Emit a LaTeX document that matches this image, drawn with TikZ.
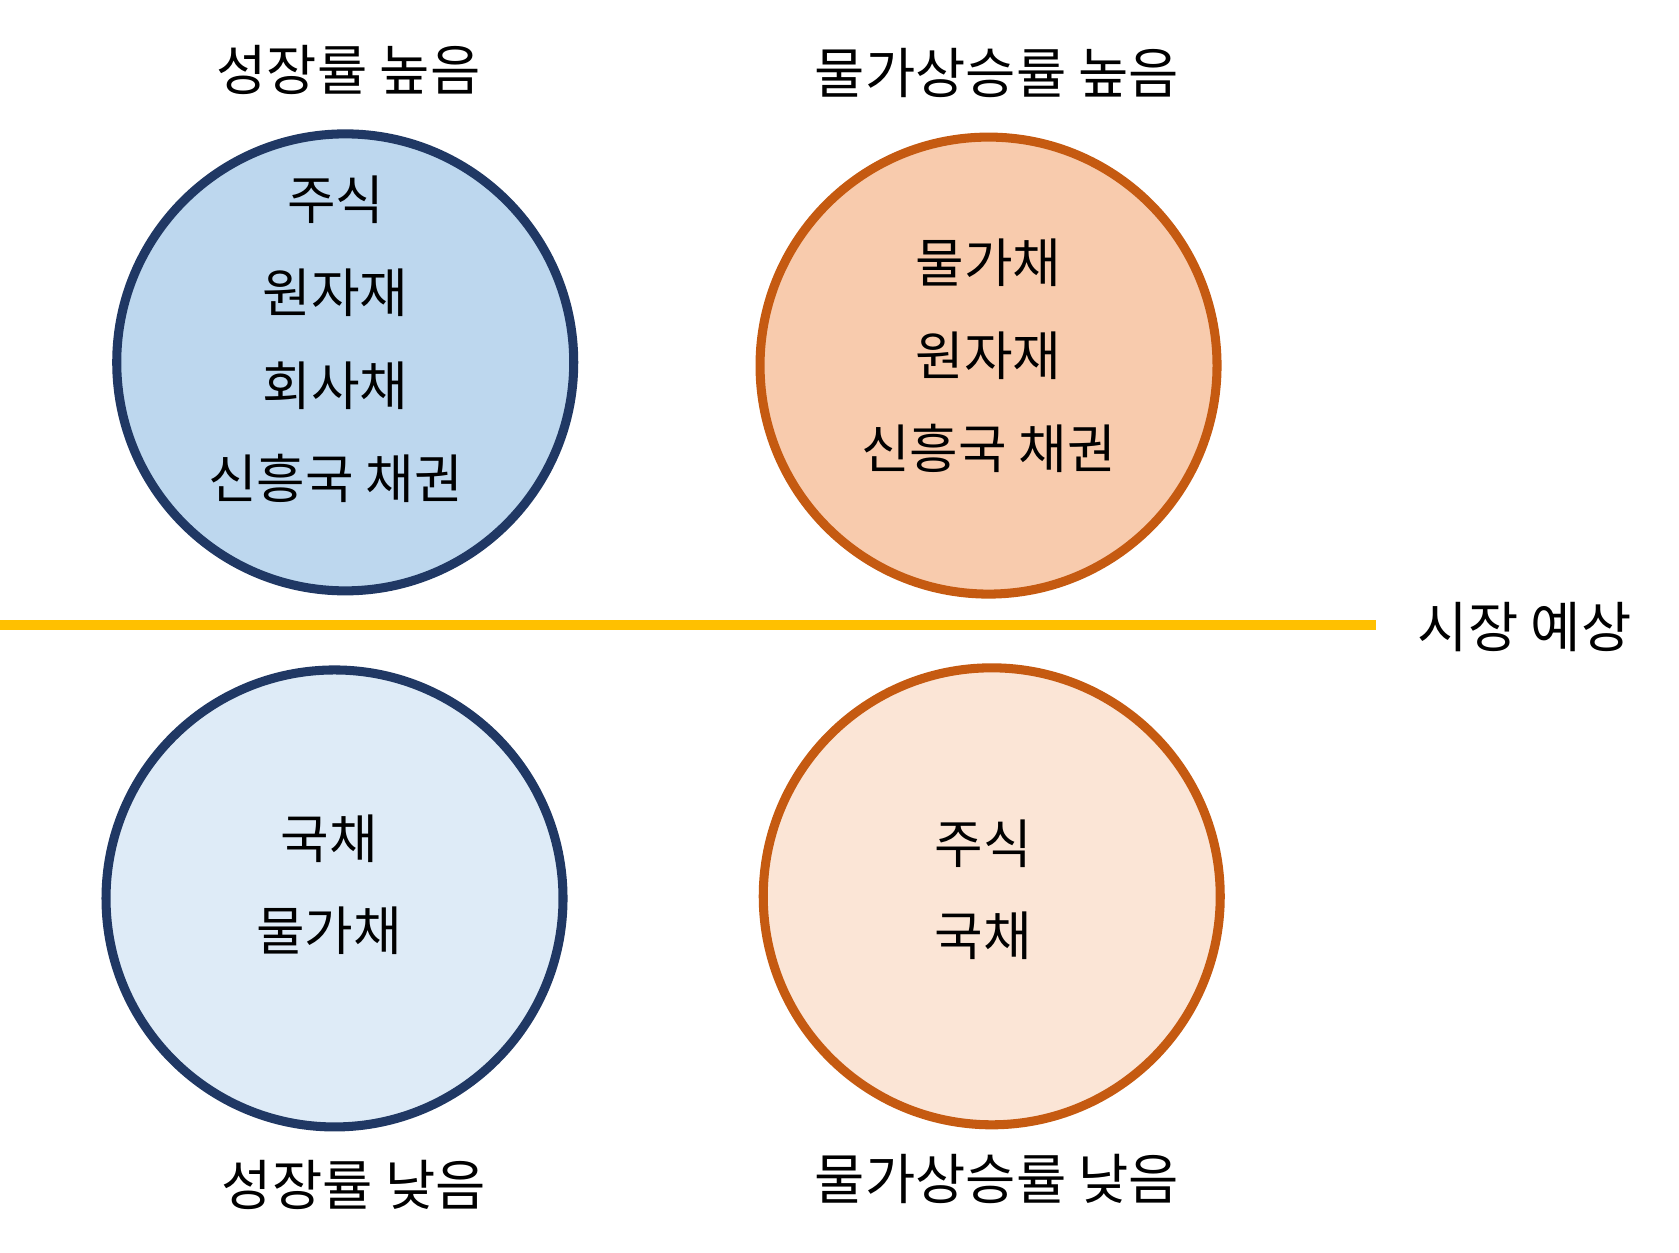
\documentclass[tikz,border=0pt]{standalone}
\usepackage{fontspec}
\setmainfont{Noto Sans CJK KR}
\definecolor{navy}{HTML}{203864}
\definecolor{rust}{HTML}{C55A11}
\definecolor{blueA}{HTML}{BDD7EE}
\definecolor{blueB}{HTML}{DEEBF7}
\definecolor{peachA}{HTML}{F8CBAD}
\definecolor{peachB}{HTML}{FBE5D6}
\definecolor{gold}{HTML}{FFC000}
\begin{document}
\begin{tikzpicture}[x=0.01cm,y=-0.01cm,
    title/.style={font=\fontsize{14.5}{17}\selectfont},
    item/.style={font=\fontsize{14}{17}\selectfont},
    bluecirc/.style={circle,draw=navy,line width=2.4pt,minimum size=4.26cm,inner sep=0pt},
    rustcirc/.style={circle,draw=rust,line width=2.4pt,minimum size=4.26cm,inner sep=0pt}]
    \useasboundingbox (0,0) rectangle (1566,1168);

    % circles
    \node[bluecirc,fill=blueA] (gh) at (322,338) {};
    \node[rustcirc,fill=peachA] (ih) at (922,341) {};
    \node[bluecirc,fill=blueB] (gl) at (312,838) {};
    \node[rustcirc,fill=peachB] (il) at (925,836) {};

    % divider
    \coordinate (lineL) at (0,583);
    \coordinate (lineR) at (1283,583);
    \draw[gold,line width=2.6pt] (lineL) -- (lineR);
    \node[title] (market) at (1422,585) {시장 예상};

    % titles
    \node[title] (ghT) at (325,65) {성장률 높음};
    \node[title] (ihT) at (930,68) {물가상승률 높음};
    \node[title] (glT) at (330,1105) {성장률 낮음};
    \node[title] (ilT) at (930,1100) {물가상승률 낮음};

    % contents
    \foreach \t [count=\i] in {주식,원자재,회사채,신흥국 채권} {
        \node[item] (gh_\i) at (313,100+\i*86.5) {\t};
    }
    \foreach \t [count=\i] in {물가채,원자재,신흥국 채권} {
        \node[item] (ih_\i) at (922,159+\i*86.5) {\t};
    }
    \foreach \t [count=\i] in {국채,물가채} {
        \node[item] (gl_\i) at (307,696+\i*86) {\t};
    }
    \foreach \t [count=\i] in {주식,국채} {
        \node[item] (il_\i) at (917,701+\i*86) {\t};
    }
\end{tikzpicture}
\end{document}
